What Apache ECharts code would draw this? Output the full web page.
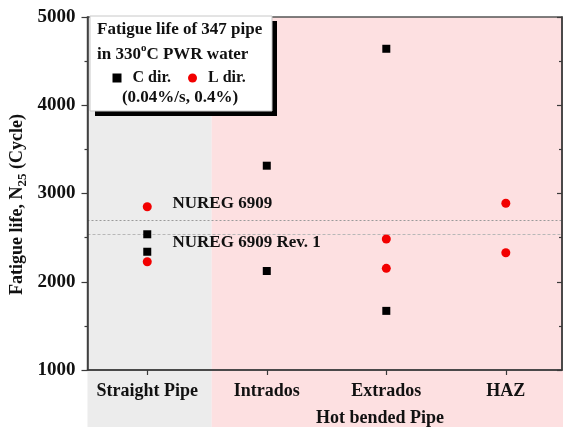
<!DOCTYPE html>
<html>
<head>
<meta charset="utf-8">
<script src="https://cdn.jsdelivr.net/npm/echarts@6/dist/echarts.min.js"></script>
<style>
html,body{margin:0;padding:0;background:#fff;}
#chart{width:563px;height:427px;}
</style>
</head>
<body>
<div id="chart"></div>
<script>
// ---- data ----
const categories = ['Straight Pipe', 'Intrados', 'Extrados', 'HAZ'];
const cDirValues = [[2538, 2340], [3315, 2122], [4640, 1670], []];
const lDirValues = [[2850, 2227], [], [2484, 2152], [2889, 2329]];
const nuregLines = [
  { name: 'NUREG 6909', value: 2700 },
  { name: 'NUREG 6909 Rev. 1', value: 2540 }
];
const yTicks = [1000, 2000, 3000, 4000, 5000];
const straightEnd = 1.54;   // boundary between straight pipe and hot bended regions (x units)

// ---- build points ----
function toPoints(arr) {
  const pts = [];
  arr.forEach((vals, i) => vals.forEach(v => pts.push([i + 1, v])));
  return pts;
}
const cPoints = toPoints(cDirValues);
const lPoints = toPoints(lDirValues);

const FONT = "'Liberation Serif', 'Times New Roman', serif";
const TXT = '#111';
const AX = '#3a3a3a';
const xMin = 0.5, xMax = 4.47, bgMax = 4.483;

const chart = echarts.init(document.getElementById('chart'), null, { renderer: 'canvas' });

const option = {
  backgroundColor: '#fff',
  animation: false,
  grid: [
    { left: 87.5, right: 1, top: 17, bottom: 57, outerBoundsMode: 'none', containLabel: false, show: true, z: 5, borderColor: '#555', borderWidth: 1.5, backgroundColor: 'transparent' },
    { left: 87.5, right: 0, top: 17, bottom: 0, outerBoundsMode: 'none', containLabel: false }
  ],
  xAxis: [
    {
      type: 'value', gridIndex: 0, min: xMin, max: xMax, z: 6,
      splitLine: { show: false },
      axisLine: { show: true, lineStyle: { color: AX, width: 1.5 } },
      axisTick: { show: true, customValues: [1, 2, 3, 4], length: 5, lineStyle: { color: AX, width: 1.2 } },
      axisLabel: {
        customValues: [1, 2, 3, 4],
        formatter: v => categories[Math.round(v) - 1] || '',
        fontFamily: FONT, fontWeight: 'bold', fontSize: 18, color: TXT, margin: 12
      }
    },
    { type: 'value', gridIndex: 1, min: xMin, max: bgMax, show: false }
  ],
  yAxis: [
    {
      type: 'value', gridIndex: 0, position: 'left', min: 1000, max: 5000, interval: 1000, z: 6,
      splitLine: { show: false },
      axisLine: { show: true, lineStyle: { color: AX, width: 1.5 } },
      axisTick: { show: true, length: 6, lineStyle: { color: AX, width: 1.2 } },
      minorTick: { show: true, splitNumber: 2, length: 3, lineStyle: { color: AX, width: 1.2 } },
      axisLabel: { formatter: v => String(v), fontFamily: FONT, fontWeight: 'bold', fontSize: 19, color: TXT, margin: 12 },
      name: 'Fatigue life, N{sub|25} (Cycle)',
      nameLocation: 'middle',
      nameGap: 58,
      nameMoveOverlap: false,
      nameTextStyle: {
        fontFamily: FONT, fontWeight: 'bold', fontSize: 18, color: TXT, lineHeight: 24,
        padding: [0, 22, 0, 0],
        rich: { sub: { fontFamily: FONT, fontWeight: 'bold', fontSize: 13, color: TXT, verticalAlign: 'bottom', lineHeight: 24 } }
      }
    },
    { type: 'value', gridIndex: 1, min: 0, max: 1, show: false },
    {
      type: 'value', gridIndex: 0, position: 'right', min: 1000, max: 5000, interval: 1000, z: 6,
      splitLine: { show: false },
      axisLine: { show: true, lineStyle: { color: AX, width: 1.5 } },
      axisTick: { show: true, inside: true, length: 5, lineStyle: { color: AX, width: 1.2 } },
      minorTick: { show: true, splitNumber: 2, length: 3, lineStyle: { color: AX, width: 1.2 } },
      axisLabel: { show: false }
    }
  ],
  legend: {
    left: 112.5, top: 70, padding: 0,
    itemWidth: 9, itemHeight: 9, itemGap: 17,
    z: 20,
    textStyle: { fontFamily: FONT, fontWeight: 'bold', fontSize: 16, color: TXT, padding: [0, 0, 0, 6] },
    data: [{ name: 'C dir.', icon: 'rect' }, { name: 'L dir.', icon: 'circle' }]
  },
  series: [
    {
      type: 'scatter', name: 'bg', xAxisIndex: 1, yAxisIndex: 1, data: [], z: -5, silent: true,
      markArea: {
        silent: true, z: -10,
        data: [
          [{ xAxis: xMin, itemStyle: { color: '#ececec' } }, { xAxis: straightEnd }],
          [{ xAxis: straightEnd, itemStyle: { color: '#fde0e1' } }, { xAxis: bgMax }]
        ]
      }
    },
    {
      type: 'scatter', name: 'C dir.', xAxisIndex: 0, yAxisIndex: 0,
      symbol: 'rect', symbolSize: 8, itemStyle: { color: '#000', opacity: 1 },
      data: cPoints, z: 7,
      markLine: {
        silent: true, symbol: 'none', animation: false, z: 4,
        lineStyle: { color: '#9a9a9a', width: 1, type: [2, 2] },
        data: [
          {
            yAxis: nuregLines[0].value,
            label: { show: true, formatter: nuregLines[0].name, position: 'insideStartTop', distance: [85, 8],
              fontFamily: FONT, fontWeight: 'bold', fontSize: 17, color: TXT }
          },
          {
            yAxis: nuregLines[1].value,
            lineStyle: { color: '#b8b8b8', type: [3, 2] },
            label: { show: true, formatter: nuregLines[1].name, position: 'insideStartBottom', distance: [85, 0],
              fontFamily: FONT, fontWeight: 'bold', fontSize: 17, color: TXT }
          }
        ]
      }
    },
    {
      type: 'scatter', name: 'L dir.', xAxisIndex: 0, yAxisIndex: 0,
      symbol: 'circle', symbolSize: 9, itemStyle: { color: '#f20000', opacity: 1 },
      data: lPoints, z: 7
    }
  ],
  graphic: [
    { type: 'rect', z: 10, shape: { x: 95, y: 21, width: 182, height: 95 }, style: { fill: '#000' } },
    { type: 'rect', z: 11, shape: { x: 90, y: 16, width: 182, height: 95 }, style: { fill: '#fff', stroke: '#c8c8c8', lineWidth: 1 } },
    { type: 'text', z: 12, x: 97, y: 30,
      style: { text: 'Fatigue life of 347 pipe', fontFamily: FONT, fontWeight: 'bold', fontSize: 17, fill: TXT, verticalAlign: 'middle', align: 'left' } },
    { type: 'text', z: 12, x: 97, y: 55,
      style: { text: 'in 330{sup|o}C PWR water', fontFamily: FONT, fontWeight: 'bold', fontSize: 17, fill: TXT, verticalAlign: 'middle', align: 'left', lineHeight: 24,
        rich: { sup: { fontFamily: FONT, fontWeight: 'bold', fontSize: 11, fill: TXT, verticalAlign: 'top', lineHeight: 12 } } } },
    { type: 'text', z: 12, x: 180, y: 98,
      style: { text: '(0.04%/s, 0.4%)', fontFamily: FONT, fontWeight: 'bold', fontSize: 17, fill: TXT, verticalAlign: 'middle', align: 'center' } },
    { type: 'text', z: 12, x: 380, y: 418,
      style: { text: 'Hot bended Pipe', fontFamily: FONT, fontWeight: 'bold', fontSize: 18, fill: TXT, verticalAlign: 'middle', align: 'center' } }
  ]
};
chart.setOption(option);
</script>
</body>
</html>
